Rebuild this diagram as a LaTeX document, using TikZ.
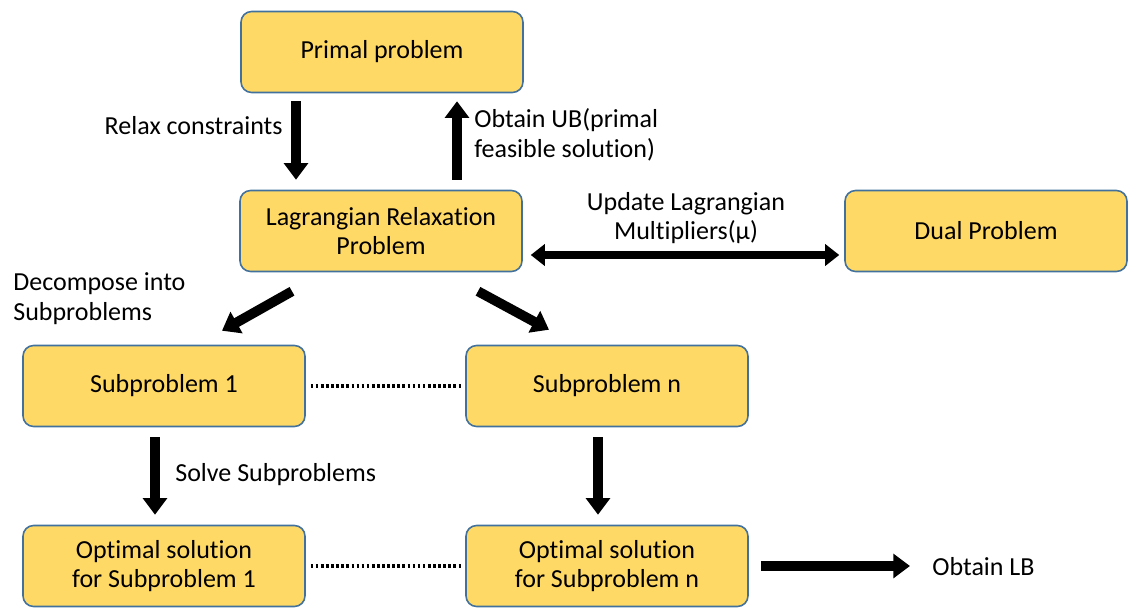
\documentclass[tikz,border=0pt]{standalone}
\usepackage{fontspec}
\setmainfont[Ligatures=NoCommon]{Carlito}
\usetikzlibrary{arrows.meta,calc}
\definecolor{boxfill}{HTML}{FFD966}
\definecolor{boxline}{HTML}{41719C}
\begin{document}
\begin{tikzpicture}[x=0.02cm,y=-0.02cm,
  box/.style={draw=boxline, line width=0.9pt, fill=boxfill, rounded corners=6pt,
    minimum width=5.64cm, minimum height=1.62cm, align=center,
    font=\fontsize{14.8}{17}\selectfont},
  lbl/.style={font=\fontsize{14.8}{17}\selectfont, inner sep=0pt},
  fat/.style={line width=5.6pt, -{Triangle[width=13.5pt,length=9.5pt]}},
  fatboth/.style={line width=4.2pt, {Triangle[width=12pt,length=8pt]}-{Triangle[width=12pt,length=8pt]}},
  dots/.style={line width=2.2pt, dash pattern=on 1.5pt off 1.4pt}]
\useasboundingbox (0,0) rectangle (1129,608);

% process boxes
\node[box] (P)  at (382,52)  {Primal problem};
\node[box] (L)  at (381,231) {Lagrangian Relaxation\\Problem};
\node[box] (D)  at (986,231) {Dual Problem};
\node[box] (S1) at (164,386) {Subproblem 1};
\node[box] (Sn) at (607,386) {Subproblem n};
\node[box] (O1) at (164,566) {Optimal solution\\for Subproblem 1};
\node[box] (On) at (607,566) {Optimal solution\\for Subproblem n};
\coordinate (LB) at (910,566);

% labels
\node[lbl, anchor=east] (relax) at (283,126) {Relax constraints};
\node[lbl, anchor=west, align=left] (ub) at (474,135) {Obtain UB(primal\\feasible solution)};
\node[lbl, align=center] (upd) at (686,218) {Update Lagrangian\\Multipliers(μ)};
\node[lbl, anchor=west, align=left] (dec) at (13,299) {Decompose into\\Subproblems};
\node[lbl, anchor=west] (solve) at (175,475) {Solve Subproblems};
\node[lbl, anchor=west] (lbtxt) at (932,567) {Obtain LB};

% arrows
\draw[fat] ($(P.south)+(-86,8)$) -- ($(L.north)+(-85,-10)$);
\draw[fat] ($(L.north)+(76,-10)$) -- ($(P.south)+(75,8)$);
\draw[fatboth] ($(L.east)+(8,24)$) -- ($(D.west)+(-5,24)$);
\draw[fat] ($(L.south)+(-89,19)$) -- ($(S1.north)+(58,-14)$);
\draw[fat] ($(L.south)+(97,19)$) -- ($(Sn.north)+(-58,-15)$);
\draw[fat] ($(S1.south)+(-9,10)$) -- ($(O1.north)+(-9,-10)$);
\draw[fat] ($(Sn.south)+(-9,10)$) -- ($(On.north)+(-9,-10)$);
\draw[fat] ($(On.east)+(12,0)$) -- (LB);

% dotted links between parallel subproblems
\draw[dots] ($(S1.east)+(5,0)$) -- ($(Sn.west)+(-3,0)$);
\draw[dots] ($(O1.east)+(5,0)$) -- ($(On.west)+(-3,0)$);
\end{tikzpicture}
\end{document}
